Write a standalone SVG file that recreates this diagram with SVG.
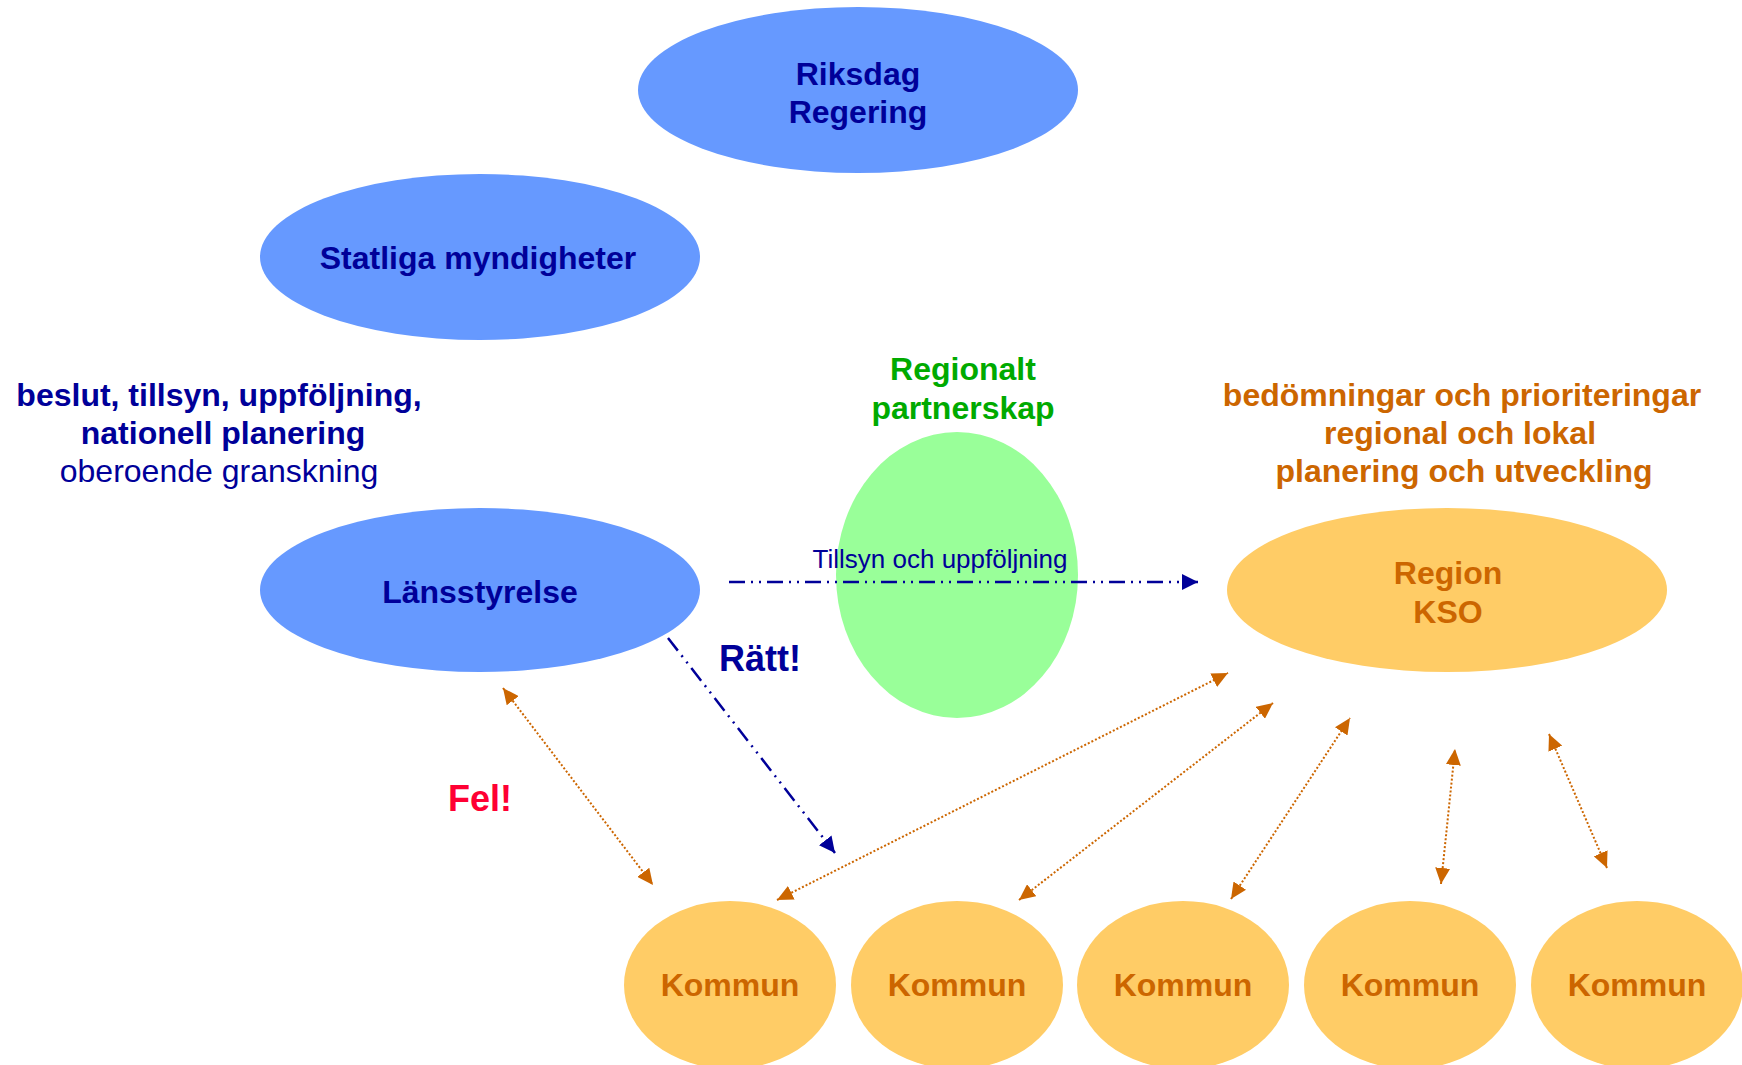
<svg xmlns="http://www.w3.org/2000/svg" width="1742" height="1065" viewBox="0 0 1742 1065">
<style>
text{font-family:"Liberation Sans",Arial,sans-serif;text-anchor:middle}
.b{font-weight:bold}
.navy{fill:#000099}
.org{fill:#CC6600}
.blueN{fill:#6699FF}
.orgN{fill:#FFCC66}
.grn{fill:#00AA00}
.dot{stroke:#CC6600;stroke-width:2;stroke-dasharray:2 2;fill:none;marker-start:url(#oa);marker-end:url(#oa)}
.dd{stroke:#000099;stroke-width:2.5;stroke-dasharray:16 6 2 6 2 6;fill:none;marker-end:url(#ba)}
</style>
<defs>
<marker id="oa" viewBox="0 0 16 15" markerWidth="16" markerHeight="15" refX="16" refY="7.5" orient="auto-start-reverse" markerUnits="userSpaceOnUse"><path d="M0,0L16,7.5L0,15z" fill="#CC6600"/></marker>
<marker id="ba" viewBox="0 0 16 16" markerWidth="16" markerHeight="16" refX="16" refY="8" orient="auto" markerUnits="userSpaceOnUse"><path d="M0,0L16,8L0,16z" fill="#000099"/></marker>
</defs>
<rect width="1742" height="1065" fill="#fff"/>
<g id="riksdag"><ellipse class="blueN" cx="858" cy="90" rx="220" ry="83"/><text class="b navy" x="858" y="85" font-size="32">Riksdag</text><text class="b navy" x="858" y="123" font-size="32">Regering</text></g>
<g id="statliga"><ellipse class="blueN" cx="480" cy="257" rx="220" ry="83"/><text class="b navy" x="478" y="269" font-size="32">Statliga myndigheter</text></g>
<g id="lansstyrelse"><ellipse class="blueN" cx="480" cy="590" rx="220" ry="82"/><text class="b navy" x="480" y="603" font-size="32">Länsstyrelse</text></g>
<g id="partnerskap"><ellipse fill="#99FF99" cx="957" cy="575" rx="121" ry="143"/><text class="b grn" x="963" y="380" font-size="32">Regionalt</text><text class="b grn" x="963" y="419" font-size="32">partnerskap</text></g>
<g id="region"><ellipse class="orgN" cx="1447" cy="590" rx="220" ry="82"/><text class="b org" x="1448" y="584" font-size="32">Region</text><text class="b org" x="1448" y="623" font-size="32">KSO</text></g>
<g id="kommun1"><ellipse class="orgN" cx="730" cy="985" rx="106" ry="84"/><text class="b org" x="730" y="996" font-size="32">Kommun</text></g>
<g id="kommun2"><ellipse class="orgN" cx="957" cy="985" rx="106" ry="84"/><text class="b org" x="957" y="996" font-size="32">Kommun</text></g>
<g id="kommun3"><ellipse class="orgN" cx="1183" cy="985" rx="106" ry="84"/><text class="b org" x="1183" y="996" font-size="32">Kommun</text></g>
<g id="kommun4"><ellipse class="orgN" cx="1410" cy="985" rx="106" ry="84"/><text class="b org" x="1410" y="996" font-size="32">Kommun</text></g>
<g id="kommun5"><ellipse class="orgN" cx="1637" cy="985" rx="106" ry="84"/><text class="b org" x="1637" y="996" font-size="32">Kommun</text></g>
<g id="labels">
<text class="b navy" x="219" y="406" font-size="32">beslut, tillsyn, uppföljning,</text>
<text class="b navy" x="223" y="444" font-size="32">nationell planering</text>
<text class="navy" x="219" y="482" font-size="32">oberoende granskning</text>
<text class="b org" x="1462" y="406" font-size="32">bedömningar och prioriteringar</text>
<text class="b org" x="1460" y="444" font-size="32">regional och lokal</text>
<text class="b org" x="1464" y="482" font-size="32">planering och utveckling</text>
<text class="b navy" x="760" y="671" font-size="36">Rätt!</text>
<text class="b" fill="#FF0033" x="480" y="811" font-size="36">Fel!</text>
<text class="navy" x="940" y="568" font-size="26">Tillsyn och uppföljning</text>
</g>
<g id="connectors">
<line class="dd" x1="729" y1="582" x2="1198" y2="582"/>
<line class="dd" x1="668" y1="638" x2="835" y2="853"/>
<line class="dot" x1="503" y1="688" x2="653" y2="885"/>
<line class="dot" x1="777" y1="900" x2="1228" y2="673"/>
<line class="dot" x1="1019" y1="900" x2="1273" y2="703"/>
<line class="dot" x1="1231" y1="899" x2="1350" y2="718"/>
<line class="dot" x1="1441" y1="884" x2="1455" y2="749"/>
<line class="dot" x1="1607" y1="868" x2="1549" y2="734"/>
</g>
</svg>
